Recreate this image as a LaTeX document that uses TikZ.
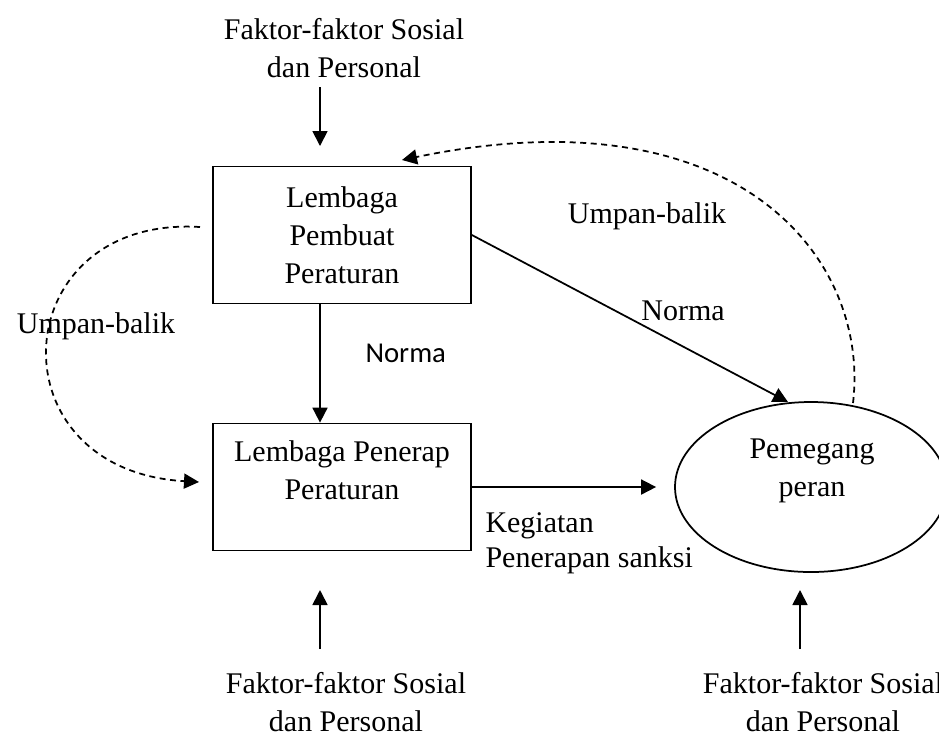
\documentclass[tikz,border=0pt]{standalone}
\usepackage{fontspec}
\setmainfont{Liberation Serif}
\newfontfamily\calibrifont{Carlito}
\usetikzlibrary{arrows.meta,shapes.geometric}

\tikzset{
  teks/.style={font=\fontsize{12}{15.2}\selectfont, align=center, inner sep=0pt},
  kotak/.style={teks, draw, line width=0.7pt, minimum width=103.2pt},
  panah/.style={-{Triangle[length=6pt,width=6pt]}, line width=0.7pt},
  putus/.style={panah, dash pattern=on 2.4pt off 1.8pt},
}

\begin{document}
\begin{tikzpicture}[x=0.4pt,y=-0.4pt]
\useasboundingbox (0,0) rectangle (939,736);

% kotak dan elips
\node[kotak, minimum height=54.8pt] (lpb) at (342,235) {Lembaga\\Pembuat\\Peraturan};
\node[kotak, minimum height=50.8pt] (lpp) at (342,487) {};
\node[teks] (lppTeks) at (342,470) {Lembaga Penerap\\Peraturan};
\node[draw, ellipse, line width=0.7pt, minimum width=108.8pt, minimum height=68pt, inner sep=0pt] (pp) at (811,487) {};
\node[teks] (ppTeks) at (812,471) {Pemegang\\peran};

% faktor sosial dan personal
\node[teks] (fkAtas) at (344,48) {Faktor-faktor Sosial\\dan Personal};
\node[teks] (fkKiri) at (346,702) {Faktor-faktor Sosial\\dan Personal};
\node[teks] (fkKanan) at (823,702) {Faktor-faktor Sosial\\dan Personal};

% label
\node[teks, anchor=base] (ubKiri) at (96,333) {Umpan-balik};
\node[teks, anchor=base] (ubAtas) at (647,223) {Umpan-balik};
\node[teks, anchor=base] (nmDiag) at (683,320) {Norma};
\node[font=\calibrifont\fontsize{11.5}{14}\selectfont, inner sep=0pt, anchor=base west] (nmTengah) at (365,362) {Norma};
\node[teks, anchor=base west] (keg) at (485,532) {Kegiatan};
\node[teks, anchor=base west] (pen) at (485,567) {Penerapan sanksi};

% ujung panah
\coordinate (atasA) at (320,87);
\coordinate (atasB) at (320,146);
\coordinate (kiriA) at (320,649);
\coordinate (kiriB) at (320,590);
\coordinate (kananA) at (800,649);
\coordinate (kananB) at (800,590);
\coordinate (ppAtas) at (788,402);
\coordinate (ppUmpan) at (853,403);
\coordinate (lpbUmpan) at (402,160);
\coordinate (lpbKiri) at (200,227);
\coordinate (lppKiri) at (199,482);

\draw[panah] (atasA) -- (atasB);
\draw[panah] (lpb.south -| atasA) -- (lpp.north -| atasA);
\draw[panah] (lpb.east) -- (ppAtas);
\draw[panah, shorten >=7.2pt] (lpp.east) -- (pp.west);
\draw[panah] (kiriA) -- (kiriB);
\draw[panah] (kananA) -- (kananB);
\draw[putus] (ppUmpan) .. controls (870,260) and (740,90) .. (lpbUmpan);
\draw[putus] (lpbKiri) .. controls (5,215) and (-10,470) .. (lppKiri);
\end{tikzpicture}
\end{document}
